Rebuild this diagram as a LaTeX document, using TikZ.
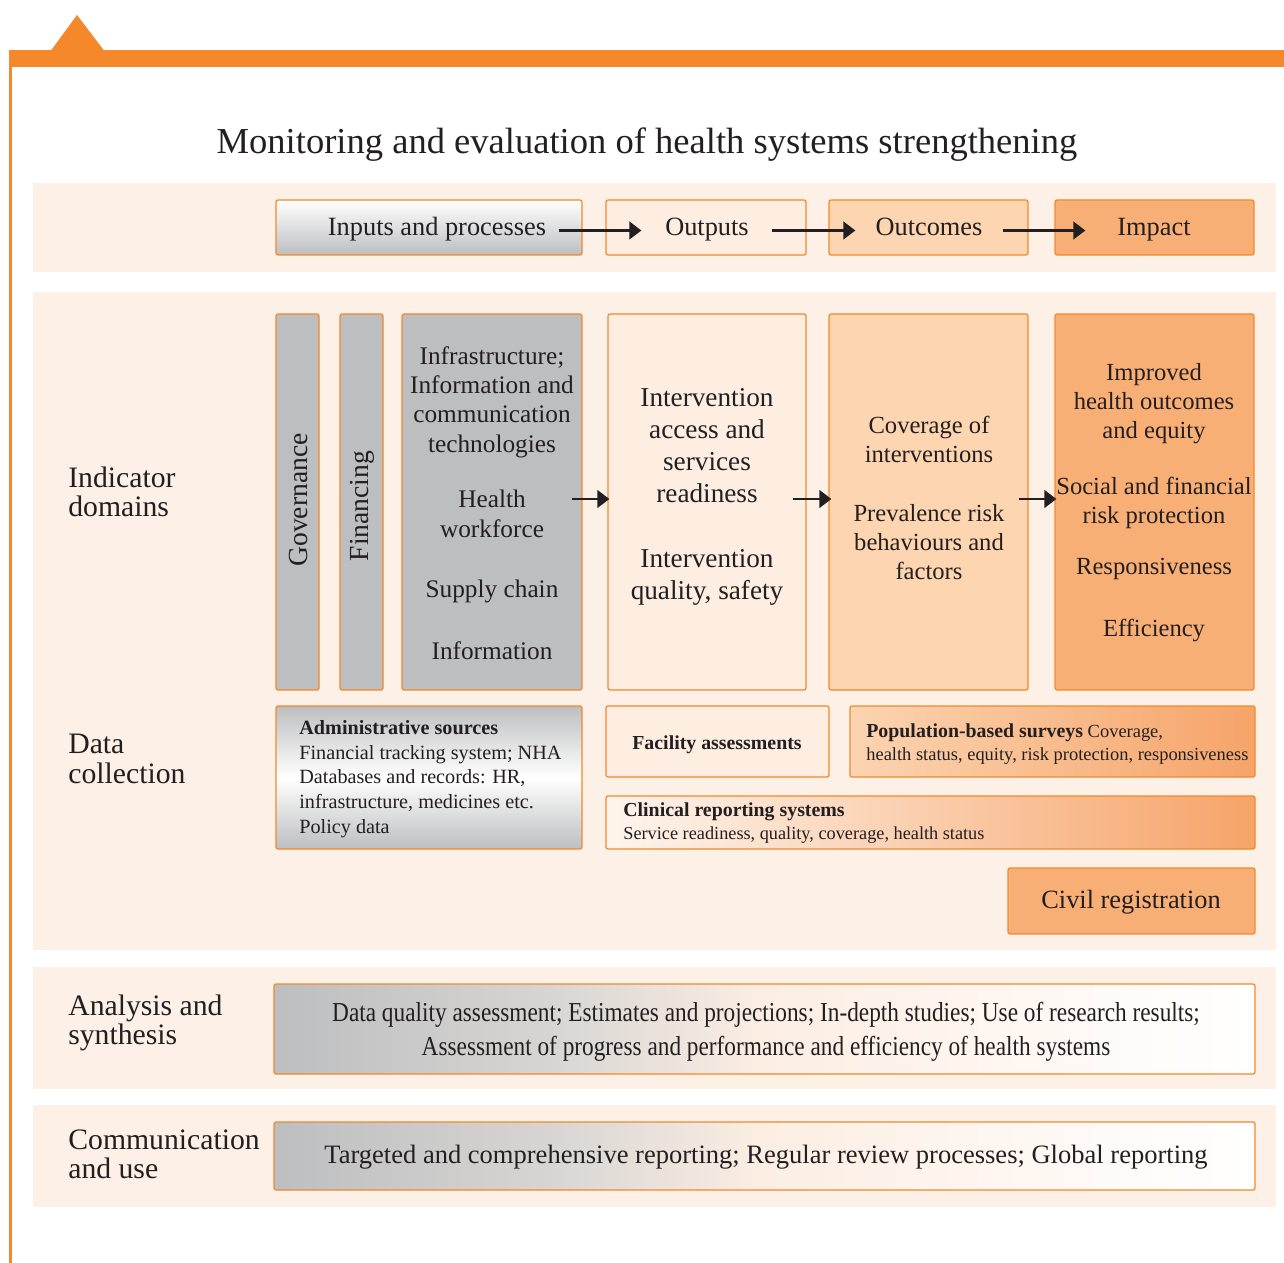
\documentclass[tikz,border=0pt]{standalone}
\usepackage{fontspec}
\setmainfont{Liberation Serif}
\newfontfamily\condfont[FakeStretch=0.85]{Liberation Serif}
\usetikzlibrary{fit,arrows.meta,calc}
\definecolor{orA}{HTML}{F5882A}
\definecolor{panel}{HTML}{FDF0E6}
\definecolor{greyA}{HTML}{BDBEC0}
\definecolor{peachA}{HTML}{FEEDE1}
\definecolor{peachB}{HTML}{FDD5B0}
\definecolor{peachC}{HTML}{F8AF76}
\definecolor{popL}{HTML}{FBD4B1}
\definecolor{popR}{HTML}{F6A469}
\definecolor{cliL}{HTML}{FEF5EE}
\definecolor{ink}{HTML}{231F20}
\definecolor{gmid}{HTML}{D7D5D3}
\definecolor{pmid}{HTML}{FCEEE3}
\definecolor{wmid}{HTML}{FEF7F2}
\pgfdeclarehorizontalshading{anashade}{100bp}{color(0bp)=(greyA); color(25bp)=(greyA); color(39bp)=(gmid); color(50bp)=(pmid); color(63bp)=(wmid); color(75bp)=(white); color(100bp)=(white)}
\begin{document}
\begin{tikzpicture}[x=0.02cm,y=-0.02cm,
  box/.style={draw=orA, line width=0.7pt, rounded corners=1.2pt, inner sep=0pt},
  bg/.style={fill=panel, draw=none, inner sep=0pt},
  txt/.style={text=ink, inner sep=0pt, align=center},
  rowlab/.style={text=ink, inner sep=0pt, align=left, anchor=west, font=\fontsize{16.9}{16.6}\selectfont},
  hdr/.style={txt, anchor=base, font=\fontsize{15}{18}\selectfont},
  colA/.style={txt, font=\fontsize{14.4}{16.7}\selectfont},
  colB/.style={txt, font=\fontsize{15.5}{18.2}\selectfont},
  colC/.style={txt, font=\fontsize{14}{16.5}\selectfont},
  small/.style={text=ink, inner sep=0pt, align=left, anchor=west, font=\fontsize{11.5}{14}\selectfont},
  arr/.style={draw=ink, line width=1.2pt, -{Triangle[length=6.8pt,width=10pt]}}
]
\useasboundingbox (0,0) rectangle (1284,1263);
% top decoration
\fill[orA] (9,50) rectangle (1284,67);
\fill[orA] (51,50.5) -- (77,15) -- (104,50.5) -- cycle;
\fill[orA] (9,66) rectangle (12,1263);
% title
\node[txt, font=\fontsize{20.8}{24}\selectfont] (title) at (647,145) {Monitoring and evaluation of health systems strengthening};
% panels
\node[bg, fit={(33,183) (1276,272)}] (p1) {};
\node[bg, fit={(33,292) (1276,950)}] (p2) {};
\node[bg, fit={(33,967) (1276,1089)}] (p3) {};
\node[bg, fit={(33,1105) (1276,1207)}] (p4) {};
% header boxes
\node[box, top color=white, bottom color=greyA, fit={(276,200) (582,255)}] (hin) {};
\node[box, fill=peachA, fit={(606,200) (806,255)}] (hout) {};
\node[box, fill=peachB, fit={(829,200) (1028,255)}] (hoc) {};
\node[box, fill=peachC, fit={(1055,200) (1254,255)}] (him) {};
\node[hdr] (thin) at (437,236) {Inputs and processes};
\node[hdr] (thout) at (707,236) {Outputs};
\node[hdr] (thoc) at (929,236) {Outcomes};
\node[hdr] (thim) at (1154,236) {Impact};
\draw[arr] ([xshift=-0.48cm,yshift=-0.06cm]hin.east) -- ([xshift=0.72cm,yshift=-0.06cm]hout.west);
\draw[arr] ([xshift=-0.70cm,yshift=-0.06cm]hout.east) -- ([xshift=0.54cm,yshift=-0.06cm]hoc.west);
\draw[arr] ([xshift=-0.52cm,yshift=-0.06cm]hoc.east) -- ([xshift=0.62cm,yshift=-0.06cm]him.west);
% row labels
\node[rowlab] (l1) at (68,492) {Indicator\\domains};
\node[rowlab] (l2) at (68,759) {Data\\collection};
\node[rowlab] (l3) at (68,1023) {Analysis and\\synthesis};
\node[rowlab] (l4) at (68,1154) {Communication\\and use};
% indicator domain boxes
\node[box, fill=greyA, fit={(276,314) (319,690)}] (gov) {};
\node[box, fill=greyA, fit={(340,314) (383,690)}] (fin) {};
\node[box, fill=greyA, fit={(402,314) (582,690)}] (sys) {};
\node[box, fill=peachA, fit={(608,314) (806,690)}] (ocol) {};
\node[box, fill=peachB, fit={(829,314) (1028,690)}] (occol) {};
\node[box, fill=peachC, fit={(1055,314) (1254,690)}] (imcol) {};
\node[txt, rotate=90, font=\fontsize{15.7}{18}\selectfont] (tgov) at (298,500) {Governance};
\node[txt, rotate=90, font=\fontsize{15.7}{18}\selectfont] (tfin) at (362,506) {Financing};
\node[colA] (s1) at (492,402) {Infrastructure;\\Information and\\communication\\technologies};
\node[colA] (s2) at (492,514) {Health\\workforce};
\node[colA] (s3) at (492,591) {Supply chain};
\node[colA] (s4) at (492,651) {Information};
\node[colB] (o1) at (707,446) {Intervention\\access and\\services\\readiness};
\node[colB] (o2) at (707,577) {Intervention\\quality, safety};
\node[colC] (c1) at (929,439) {Coverage of\\interventions};
\node[colC] (c2) at (929,542) {Prevalence risk\\behaviours and\\factors};
\node[colC] (i1) at (1154,404) {Improved\\health outcomes\\and equity};
\node[colC] (i2) at (1154,503) {Social and financial\\risk protection};
\node[colC] (i3) at (1154,569) {Responsiveness};
\node[colC] (i4) at (1154,630) {Efficiency};
\draw[arr] ([xshift=-0.22cm,yshift=0.06cm]sys.east) -- ([xshift=0.04cm,yshift=0.06cm]ocol.west);
\draw[arr] ([xshift=-0.28cm,yshift=0.06cm]ocol.east) -- ([xshift=0.06cm,yshift=0.06cm]occol.west);
\draw[arr] ([xshift=-0.20cm,yshift=0.06cm]occol.east) -- ([xshift=0.04cm,yshift=0.06cm]imcol.west);
% data collection
\node[box, top color=greyA, bottom color=greyA, middle color=white, fit={(276,706) (582,849)}] (adm) {};
\node[box, fill=peachA, fit={(606,706) (829,777)}] (fac) {};
\node[box, left color=popL, right color=popR, fit={(850,706) (1255,777)}] (pop) {};
\node[box, left color=cliL, right color=popR, fit={(606,796) (1255,849)}] (cli) {};
\node[box, fill=peachC, fit={(1008,868) (1255,934)}] (civ) {};
\node[small] (tadm) at (299,779) {\textbf{Administrative sources}\\Financial tracking system; NHA\\Databases and records: HR,\\infrastructure, medicines etc.\\Policy data};
\node[txt, font=\fontsize{11.3}{14}\selectfont\bfseries] (tfac) at (717,745) {Facility assessments};
\node[small, font=\fontsize{10.5}{13}\selectfont] (tpop) at (866,744) {{\fontsize{11.3}{13}\selectfont\bfseries Population-based surveys} Coverage,\\health status, equity, risk protection, responsiveness};
\node[small, font=\fontsize{10.4}{13}\selectfont] (tcli) at (623,823) {{\fontsize{11.3}{13}\selectfont\bfseries Clinical reporting systems}\\Service readiness, quality, coverage, health status};
\node[txt, font=\fontsize{15}{18}\selectfont] (tciv) at (1131,902) {Civil registration};
% analysis and communication
\node[box, shading=anashade, fit={(274,984) (1255,1074)}] (ana) {};
\node[box, shading=anashade, fit={(274,1122) (1255,1190)}] (com) {};
\node[txt, font=\condfont\fontsize{15.6}{19.4}\selectfont] (tana) at (766,1031.5) {Data quality assessment; Estimates and projections; In-depth studies; Use of research results;\\Assessment of progress and performance and efficiency of health systems};
\node[txt, font=\fontsize{15.1}{19}\selectfont] (tcom) at (766,1157) {Targeted and comprehensive reporting; Regular review processes; Global reporting};
\end{tikzpicture}
\end{document}
